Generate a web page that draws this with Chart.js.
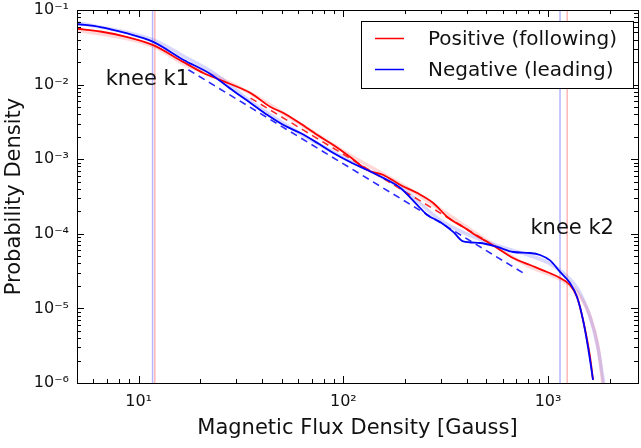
<!DOCTYPE html>
<html>
<head>
<meta charset="utf-8">
<script src="https://cdn.jsdelivr.net/npm/chart.js@4.4.1/dist/chart.umd.min.js"></script>
<style>
    html, body { margin: 0; padding: 0; background: #fff; }
    #wrap { width: 641px; height: 448px; }
</style>
</head>
<body>
<div id="wrap"><canvas id="chart"></canvas></div>
<script>
// Positive (following) polarity, solid curve
const posX = [5, 6.5, 8.6, 11.7, 16.6, 20.7, 25.1, 35.2, 44.1, 51.0, 61.7, 74.7, 89.4, 108, 131, 157, 190, 230, 275, 322, 385, 466, 513, 564, 675, 817, 989, 1144, 1280, 1385, 1482, 1604, 1658];
const posY = [0.0561, 0.0515, 0.0441, 0.0340, 0.0200, 0.0143, 0.0115, 0.00771, 0.00500, 0.00416, 0.00300, 0.00211, 0.00155, 0.00107, 0.000716, 0.000614, 0.000451, 0.000352, 0.000259, 0.000168, 0.000123, 0.0000879, 0.0000760, 0.0000646, 0.0000474, 0.0000382, 0.0000308, 0.0000256, 0.0000206, 0.0000142, 0.0000070, 0.00000223, 0.0000011];

// Negative (leading) polarity, solid curve
const negX = [5, 6.5, 8.6, 11.7, 16.6, 22.4, 29.1, 35.2, 42.6, 51.0, 61.7, 74.7, 89.4, 108, 131, 157, 190, 230, 257, 297, 344, 385, 466, 564, 675, 817, 914, 1023, 1144, 1280, 1385, 1482, 1567, 1658];
const negY = [0.0649, 0.0591, 0.0492, 0.0376, 0.0214, 0.0139, 0.0082, 0.00567, 0.00391, 0.00287, 0.00224, 0.00165, 0.00121, 0.000916, 0.000716, 0.000560, 0.000411, 0.000243, 0.000179, 0.000144, 0.000106, 0.0000790, 0.0000753, 0.0000666, 0.0000570, 0.0000553, 0.0000520, 0.0000440, 0.0000308, 0.0000219, 0.0000142, 0.0000070, 0.00000304, 0.0000011];

// faint smoothed curves behind the solid ones
const fadePosX = [5, 11.7, 16.6, 24, 35, 60, 100, 200, 300, 500, 800, 1000, 1200, 1400, 1600, 1750, 1850];
const fadePosY = [0.054, 0.0330, 0.0190, 0.0128, 0.0077, 0.0031, 0.00128, 0.00043, 0.00021, 0.000082, 0.000037, 0.000029, 0.000023, 0.000016, 0.0000080, 0.0000032, 0.0000010];
const fadeNegX = [5, 11.7, 16.6, 24, 35, 60, 100, 200, 300, 500, 800, 1000, 1200, 1400, 1600, 1750, 1870];
const fadeNegY = [0.068, 0.040, 0.024, 0.0135, 0.0060, 0.0023, 0.00105, 0.00038, 0.00015, 0.000078, 0.000052, 0.000041, 0.000029, 0.000018, 0.0000078, 0.0000030, 0.0000010];

// power law fits (dashed)
const fitPosX = [35.2, 482];
const fitPosY = [0.0066, 0.0000851];
const fitNegX = [17.5, 755];
const fitNegY = [0.0158, 0.0000299];

// knees k1, k2
const kneePos = [12.0, 1240];
const kneeNeg = [11.7, 1144];

const xTickValues = [10, 100, 1000];
const xTickLabels = ['10¹', '10²', '10³'];
const yTickValues = [1e-6, 1e-5, 1e-4, 1e-3, 1e-2, 1e-1];
const yTickLabels = ['10⁻⁶', '10⁻⁵', '10⁻⁴', '10⁻³', '10⁻²', '10⁻¹'];

const xMin = 5, xMax = 2750, yMin = 1e-6, yMax = 1e-1;
const FONT = "'DejaVu Sans', sans-serif";

function pts(xs, ys) {
    return xs.map((x, i) => ({ x: x, y: ys[i] }));
}

function vline(x, color) {
    return {
        data: [{ x: x, y: yMin }, { x: x, y: yMax }],
        borderColor: color, borderWidth: 1.5, pointRadius: 0, tension: 0
    };
}

// Frame, inward ticks, annotations and legend (matplotlib look)
const decorPlugin = {
    id: 'decor',
    afterDraw(chart) {
        const ctx = chart.ctx;
        const a = chart.chartArea;
        const xs = chart.scales.x, ys = chart.scales.y;
        ctx.save();
        ctx.strokeStyle = '#000';
        ctx.lineWidth = 1;

        // minor/major ticks on all four sides
        for (let e = 0; e <= 3; e++) {
            for (let k = 1; k <= 9; k++) {
                const v = k * Math.pow(10, e);
                if (v < xMin || v > xMax) continue;
                const px = Math.round(xs.getPixelForValue(v)) + 0.5;
                const len = k === 1 ? 7 : 4;
                ctx.beginPath();
                ctx.moveTo(px, a.bottom); ctx.lineTo(px, a.bottom - len);
                ctx.moveTo(px, a.top); ctx.lineTo(px, a.top + len);
                ctx.stroke();
            }
        }
        for (let e = -6; e <= -1; e++) {
            for (let k = 1; k <= 9; k++) {
                const v = k * Math.pow(10, e);
                if (v < yMin * 0.999 || v > yMax * 1.001) continue;
                const py = Math.round(ys.getPixelForValue(v)) + 0.5;
                const len = k === 1 ? 7 : 4;
                ctx.beginPath();
                ctx.moveTo(a.left, py); ctx.lineTo(a.left + len, py);
                ctx.moveTo(a.right, py); ctx.lineTo(a.right - len, py);
                ctx.stroke();
            }
        }

        // frame
        ctx.strokeRect(Math.round(a.left) + 0.5, Math.round(a.top) + 0.5,
            Math.round(a.right - a.left), Math.round(a.bottom - a.top));

        // knee annotations
        ctx.fillStyle = '#111';
        ctx.font = '21px ' + FONT;
        ctx.textAlign = 'left';
        ctx.textBaseline = 'alphabetic';
        ctx.fillText('knee k1', xs.getPixelForValue(6.9), ys.getPixelForValue(1e-2));
        ctx.fillText('knee k2', xs.getPixelForValue(820), ys.getPixelForValue(1e-4));

        // legend
        const lx = a.right - 277, ly = a.top + 11;
        ctx.fillStyle = '#fff';
        ctx.fillRect(lx, ly, 272, 67);
        ctx.strokeStyle = '#000';
        ctx.strokeRect(lx + 0.5, ly + 0.5, 272, 67);
        const entries = [['Positive (following)', '#ff0000'], ['Negative (leading)', '#0000ff']];
        entries.forEach((en, i) => {
            const yy = ly + 17.5 + i * 31;
            ctx.strokeStyle = en[1];
            ctx.lineWidth = 1.5;
            ctx.beginPath();
            ctx.moveTo(lx + 14, yy); ctx.lineTo(lx + 43, yy);
            ctx.stroke();
            ctx.fillStyle = '#111';
            ctx.font = '20px ' + FONT;
            ctx.textBaseline = 'middle';
            ctx.fillText(en[0], lx + 67, yy + 1);
        });
        ctx.restore();
    }
};

const solid = { pointRadius: 0, borderWidth: 1.8, cubicInterpolationMode: 'monotone' };
const faded = { pointRadius: 0, borderWidth: 3.5, cubicInterpolationMode: 'monotone' };

new Chart(document.getElementById('chart'), {
    type: 'line',
    data: {
        datasets: [
            Object.assign({ data: pts(negX, negY), borderColor: '#0000ff' }, solid),
            Object.assign({ data: pts(posX, posY), borderColor: '#ff0000' }, solid),
            { data: pts(fitNegX, fitNegY), borderColor: '#2a2aff', borderWidth: 1.6, borderDash: [7, 5], pointRadius: 0 },
            { data: pts(fitPosX, fitPosY), borderColor: '#ff2a2a', borderWidth: 1.6, borderDash: [7, 5], pointRadius: 0 },
            Object.assign({ data: pts(fadeNegX, fadeNegY), borderColor: 'rgba(60,60,255,0.2)' }, faded),
            Object.assign({ data: pts(fadePosX, fadePosY), borderColor: 'rgba(255,60,60,0.2)' }, faded),
            vline(kneeNeg[0], 'rgba(90,90,255,0.45)'),
            vline(kneePos[0], 'rgba(255,90,90,0.45)'),
            vline(kneeNeg[1], 'rgba(90,90,255,0.45)'),
            vline(kneePos[1], 'rgba(255,90,90,0.45)')
        ]
    },
    options: {
        responsive: true,
        maintainAspectRatio: false,
        animation: false,
        layout: { padding: { top: 10, right: 3, left: 0, bottom: 0 } },
        plugins: { legend: { display: false }, tooltip: { enabled: false } },
        scales: {
            x: {
                type: 'logarithmic',
                min: xMin, max: xMax,
                grid: { display: false, drawTicks: false },
                border: { display: false },
                afterBuildTicks: (s) => { s.ticks = xTickValues.map(v => ({ value: v })); },
                afterFit: (s) => { s.height = 65; s.paddingLeft = 0; s.paddingRight = 0; },
                ticks: {
                    padding: 9, maxRotation: 0, autoSkip: false, color: '#111',
                    font: { family: FONT, size: 16 },
                    callback: (v, i) => xTickLabels[i]
                },
                title: {
                    display: true, text: 'Magnetic Flux Density [Gauss]', color: '#111',
                    font: { family: FONT, size: 21 }, padding: { top: 0, bottom: 7 }
                }
            },
            y: {
                type: 'logarithmic',
                min: yMin, max: yMax,
                grid: { display: false, drawTicks: false },
                border: { display: false },
                afterBuildTicks: (s) => { s.ticks = yTickValues.map(v => ({ value: v })); },
                afterFit: (s) => { s.width = 77; s.paddingTop = 0; s.paddingBottom = 0; },
                ticks: {
                    padding: 8, autoSkip: false, color: '#111',
                    font: { family: FONT, size: 16 },
                    callback: (v, i) => yTickLabels[i]
                },
                title: {
                    display: true, text: 'Probability Density', color: '#111',
                    font: { family: FONT, size: 21 }, padding: { top: 2, bottom: 0 }
                }
            }
        }
    },
    plugins: [decorPlugin]
});
</script>
</body>
</html>
